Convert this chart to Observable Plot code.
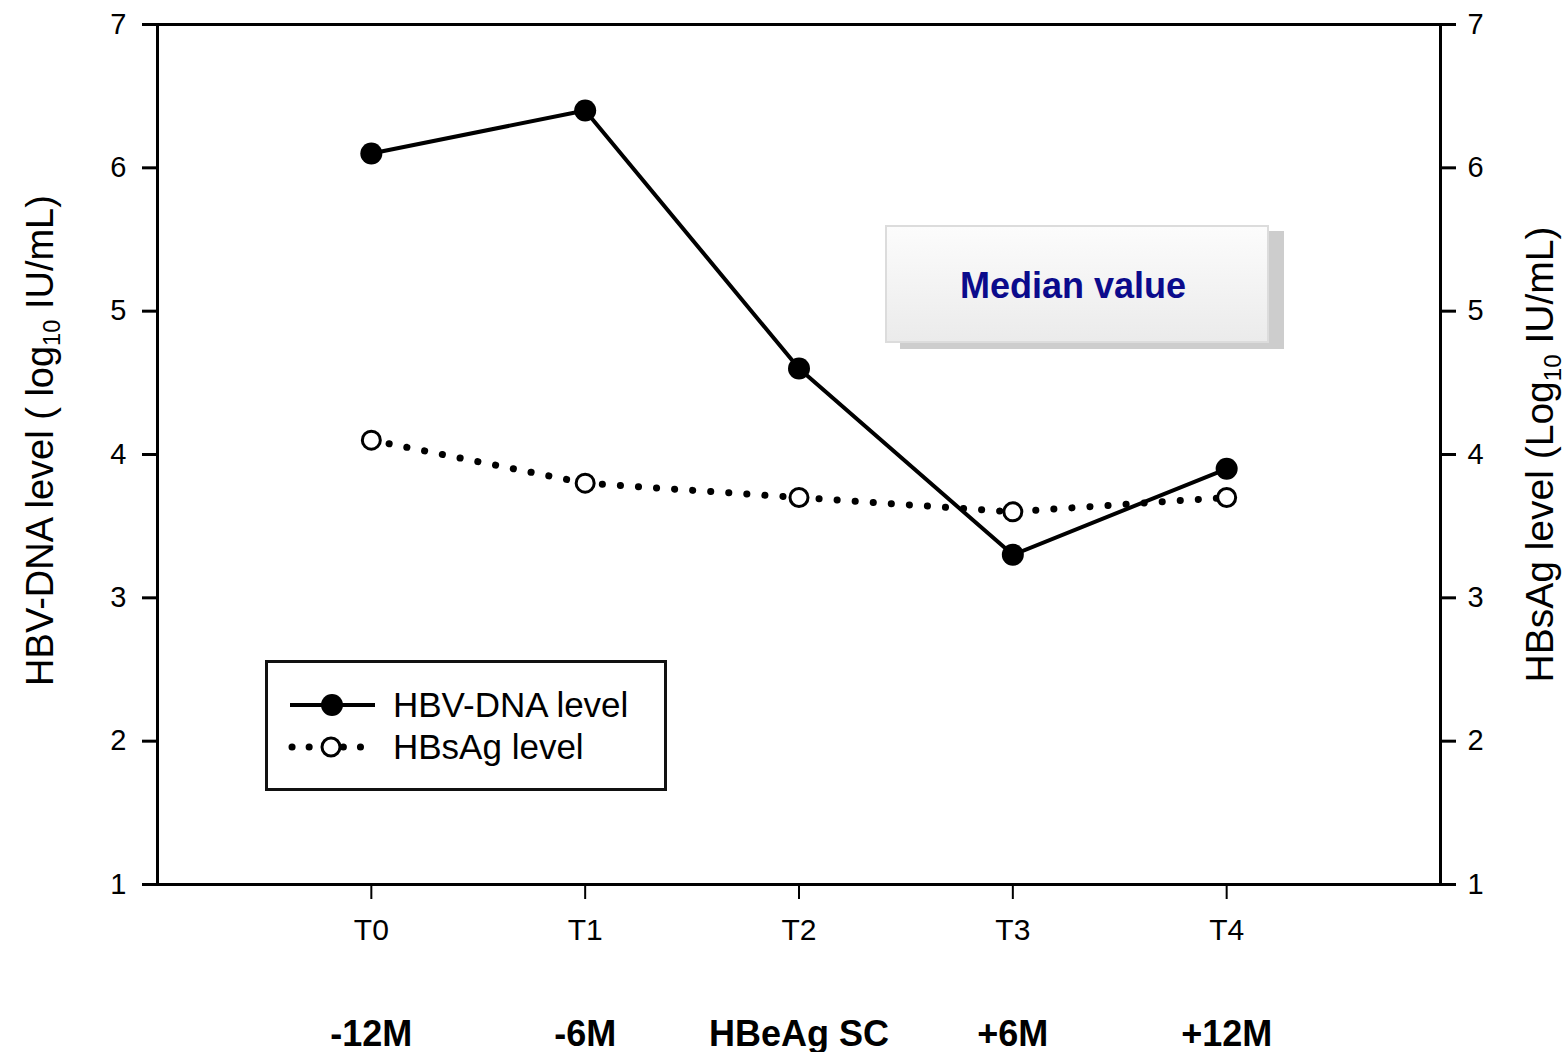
<!DOCTYPE html>
<html>
<head>
<meta charset="utf-8">
<script src="https://cdn.jsdelivr.net/npm/d3@7"></script>
<script src="https://cdn.jsdelivr.net/npm/@observablehq/plot@0.6"></script>
<style>
  html, body { margin: 0; padding: 0; background: white; }
  #wrap { position: relative; width: 1568px; height: 1052px; font-family: "Liberation Sans", Arial, sans-serif; }
  #median {
    position: absolute; left: 885px; top: 225px; width: 384px; height: 118px; box-sizing: border-box;
    border: 2px solid #dcdcdc; background: linear-gradient(#fcfcfc, #ebebeb);
    box-shadow: 15px 6px 0 #cdcdcd;
    display: flex; align-items: center; justify-content: center;
    font-weight: bold; font-size: 36px; color: #0b0b8c; padding-right: 8px; padding-top: 4px;
  }
  #legend { position: absolute; left: 265px; top: 660px; }
</style>
</head>
<body>
<div id="wrap"></div>
<script>
// ---- data ----
const timepoints = ["T0", "T1", "T2", "T3", "T4"];
const months = ["-12M", "-6M", "HBeAg SC", "+6M", "+12M"];
const hbvDna = [6.1, 6.4, 4.6, 3.3, 3.9];
const hbsAg = [4.1, 3.8, 3.7, 3.6, 3.7];
const yTicks = [1, 2, 3, 4, 5, 6, 7];
const seriesNames = ["HBV-DNA level", "HBsAg level"];
const leftTitle = "HBV-DNA level ( log10 IU/mL)";
const rightTitle = "HBsAg level (Log10 IU/mL)";
const annotation = "Median value";

const idx = timepoints.map((_, i) => i);
const dnaRows = idx.map(i => ({i, v: hbvDna[i]}));
const sagRows = idx.map(i => ({i, v: hbsAg[i]}));

const font = "Liberation Sans, Arial, sans-serif";

const chart = Plot.plot({
  width: 1568,
  height: 1052,
  marginLeft: 157,
  marginRight: 128,
  marginTop: 24,
  marginBottom: 168,
  style: {fontFamily: font, background: "white", color: "black", overflow: "visible"},
  x: {domain: [-1, 5]},
  y: {domain: [1, 7]},
  marks: [
    Plot.frame({strokeWidth: 3}),
    Plot.axisY(yTicks, {anchor: "left", tickFormat: d => String(d), tickSize: 15, tickPadding: 16, fontSize: 29, strokeWidth: 3, label: null}),
    Plot.axisY(yTicks, {anchor: "right", tickFormat: d => String(d), tickSize: 15, tickPadding: 12, fontSize: 29, strokeWidth: 3, label: null}),
    Plot.axisX(idx, {anchor: "bottom", tickFormat: i => timepoints[i], tickSize: 15, tickPadding: 19, fontSize: 30, strokeWidth: 2, label: null}),
    Plot.axisX(idx, {anchor: "bottom", tickFormat: i => months[i], tickSize: 0, tickPadding: 136, fontSize: 36, fontWeight: "bold", label: null}),
    Plot.line(sagRows, {x: "i", y: "v", stroke: "black", strokeWidth: 7, strokeDasharray: "0.1 18", strokeLinecap: "round"}),
    Plot.line(dnaRows, {x: "i", y: "v", stroke: "black", strokeWidth: 4}),
    Plot.dot(dnaRows, {x: "i", y: "v", r: 11, fill: "black"}),
    Plot.dot(sagRows, {x: "i", y: "v", r: 9, fill: "white", stroke: "black", strokeWidth: 3}),
    Plot.text([leftTitle], {frameAnchor: "left", textAnchor: "middle", text: d => d, rotate: -90, dx: -117, dy: -14, fontSize: 38}),
    Plot.text([rightTitle], {frameAnchor: "right", textAnchor: "middle", text: d => d, rotate: -90, dx: 100, dy: 0, fontSize: 39})
  ]
});

// subscripts for log10
d3.select(chart).selectAll("text").filter(function () {
  return this.textContent === leftTitle || this.textContent === rightTitle;
}).each(function () {
  const t = this.textContent;
  const k = t.indexOf("10");
  const sel = d3.select(this).text(null);
  sel.append("tspan").text(t.slice(0, k));
  sel.append("tspan").attr("font-size", "0.62em").attr("dy", "0.32em").text("10");
  sel.append("tspan").attr("dy", "-0.2em").text(t.slice(k + 2));
});

const wrap = document.getElementById("wrap");
wrap.appendChild(chart);

// annotation box
const med = document.createElement("div");
med.id = "median";
med.textContent = annotation;
wrap.appendChild(med);

// legend
const leg = d3.create("svg").attr("id", "legend").attr("width", 402).attr("height", 131)
  .style("font-family", font);
leg.append("rect").attr("x", 1.5).attr("y", 1.5).attr("width", 399).attr("height", 128)
  .attr("fill", "white").attr("stroke", "#111").attr("stroke-width", 3);
const rows = [{y: 45, solid: true}, {y: 87, solid: false}];
rows.forEach((r, k) => {
  if (r.solid) {
    leg.append("line").attr("x1", 25).attr("x2", 110).attr("y1", r.y).attr("y2", r.y)
      .attr("stroke", "black").attr("stroke-width", 4);
    leg.append("circle").attr("cx", 67).attr("cy", r.y).attr("r", 11).attr("fill", "black");
  } else {
    leg.append("line").attr("x1", 27).attr("x2", 107).attr("y1", r.y).attr("y2", r.y)
      .attr("stroke", "black").attr("stroke-width", 7).attr("stroke-linecap", "round")
      .attr("stroke-dasharray", "0.1 17");
    leg.append("circle").attr("cx", 66).attr("cy", r.y).attr("r", 9).attr("fill", "white")
      .attr("stroke", "black").attr("stroke-width", 3);
  }
  leg.append("text").attr("x", 128).attr("y", r.y + 12).attr("font-size", 35).text(seriesNames[k]);
});
wrap.appendChild(leg.node());
</script>
</body>
</html>
